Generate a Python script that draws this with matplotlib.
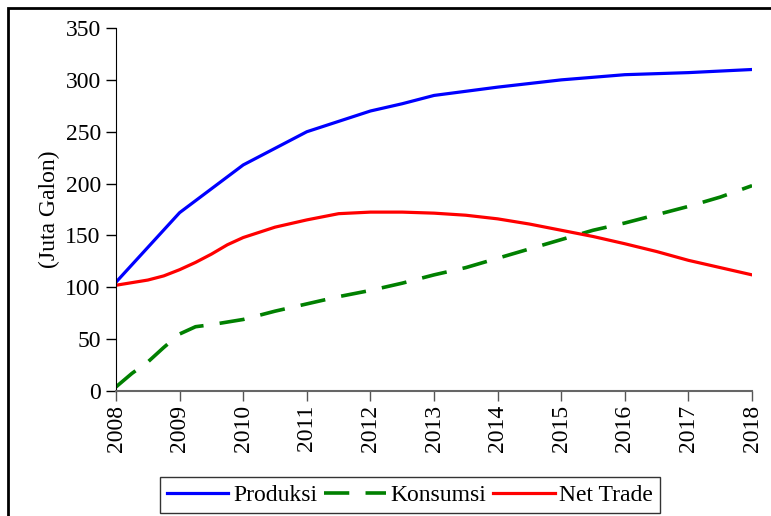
import matplotlib.pyplot as plt
from matplotlib.patches import Rectangle

plt.rcParams['font.family'] = ['Liberation Serif', 'DejaVu Serif']

# tahun (quarter/half-year points)
tahun_prod = [2008, 2009, 2009.5, 2010, 2010.5, 2011, 2011.5, 2012, 2012.5, 2013,
              2013.5, 2014, 2015, 2016, 2017, 2018]
produksi = [105, 172, 195, 218, 234, 250, 260, 270, 277, 285,
            289, 293, 300, 305, 307, 310]

tahun_kons = [2008, 2008.25, 2008.5, 2008.75, 2009, 2009.25, 2009.5, 2010, 2010.5,
              2011, 2011.5, 2012, 2012.5, 2013, 2013.5, 2014, 2014.5, 2015,
              2015.5, 2016, 2016.5, 2017, 2017.5, 2018]
konsumsi = [4, 17, 28, 42, 55, 62, 64, 69, 77,
            84, 91, 97, 104, 112, 119, 128, 137, 146,
            155, 162, 170, 178, 187, 198]

tahun_net = [2008, 2008.5, 2008.75, 2009, 2009.25, 2009.5, 2009.75, 2010, 2010.5,
             2011, 2011.5, 2012, 2012.5, 2013, 2013.5, 2014, 2014.5, 2015,
             2015.5, 2016, 2016.5, 2017, 2017.5, 2018]
net_trade = [102, 107, 111, 117, 124, 132, 141, 148, 158,
             165, 171, 172.5, 172.5, 171.5, 169.5, 166, 161, 155,
             149, 142, 134.5, 126, 119, 112]

tahun_ticks = list(range(2008, 2019))

fig = plt.figure(figsize=(7.71, 5.16), dpi=100)
ax = fig.add_axes([0.1505, 0.2422, 0.8249, 0.7035])

ax.plot(tahun_prod, produksi, color='#0000ff', lw=2.3, label='Produksi')
ax.plot(tahun_kons, konsumsi, color='#008000', lw=2.6, dashes=(7, 4.5), label='Konsumsi')
ax.plot(tahun_net, net_trade, color='#ff0000', lw=2.3, label='Net Trade')

ax.set_xlim(2008, 2018)
ax.set_ylim(0, 350)
ax.set_xticks(tahun_ticks)
ax.set_xticklabels([str(t) for t in tahun_ticks], rotation=90)
ax.set_yticks(range(0, 351, 50))
ax.tick_params(axis='both', labelsize=17, direction='out', length=7, width=1)
ax.tick_params(axis='x', colors='#555555', labelcolor='black', pad=3)
ax.tick_params(axis='y', pad=4)

for s in ['top', 'right']:
    ax.spines[s].set_visible(False)
ax.spines['bottom'].set_color('#666666')
ax.spines['bottom'].set_linewidth(1.5)

ax.set_ylabel('(Juta Galon)', fontsize=17, labelpad=4)

fig.legend(loc='lower center', bbox_to_anchor=(410 / 771, 3 / 516), ncol=3,
           fontsize=17, frameon=True, fancybox=False, edgecolor='black',
           handlelength=2.6, handletextpad=0.2, columnspacing=0.3,
           borderpad=0.3, borderaxespad=0)

# frame around the whole figure
fig.patches.append(Rectangle((8 / 771, -0.1), 1.2, 1.1 - 8 / 516, transform=fig.transFigure,
                             fill=False, edgecolor='black', lw=2))

fig.savefig('out.png', dpi=100)
